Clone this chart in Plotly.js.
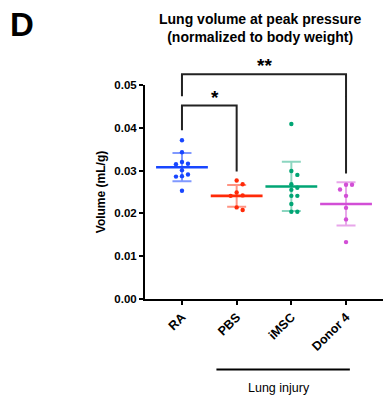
<!DOCTYPE html>
<html>
<head>
<meta charset="utf-8">
<script src="https://cdn.plot.ly/plotly-3.0.1.min.js"></script>
<style>html,body{margin:0;padding:0;background:#fff;}#chart{width:388px;height:406px;}</style>
</head>
<body>
<div id="chart"></div>
<script>
// ---------- data ----------
const categories = ['RA', 'PBS', 'iMSC', 'Donor 4'];
const raValues    = [0.0371, 0.0343, 0.0320, 0.0316, 0.0315, 0.0301, 0.0291, 0.0287, 0.0286, 0.0253];
const pbsValues   = [0.0277, 0.0268, 0.0249, 0.0242, 0.0241, 0.0214, 0.0208];
const imscValues  = [0.0409, 0.0299, 0.0290, 0.0268, 0.0260, 0.0255, 0.0241, 0.0241, 0.0222, 0.0204, 0.0204];
const donorValues = [0.0267, 0.0267, 0.0256, 0.0241, 0.0213, 0.0186, 0.0133];
const meanValues  = [0.0308, 0.0241, 0.0263, 0.0222];
const sdValues    = [0.0033, 0.00255, 0.00575, 0.00505];
const yTickVals   = [0, 0.01, 0.02, 0.03, 0.04, 0.05];
const comparisons = [
  { from: 0, to: 1, label: '*' },
  { from: 0, to: 3, label: '**' }
];
const groupLabel = 'Lung injury';
const titleText = 'Lung volume at peak pressure<br>(normalized to body weight)';
const panelLetter = 'D';
const yTitle = 'Volume (mL/g)';

// ---------- style / layout constants ----------
const W = 388, H = 406;
const M = { l: 145, r: 5, t: 85, b: 107 };
const xRange = [-0.676, 3.676];
const yRange = [0, 0.05];
const colors = ['#1846ff', '#ff2a08', '#00a574', '#d24ed6'];
const sdColors = ['rgba(24,70,255,0.55)', 'rgba(255,42,8,0.5)', 'rgba(0,165,116,0.45)', 'rgba(210,78,214,0.5)'];
const FONT = 'Liberation Sans, Arial, sans-serif';
// bracket geometry (data units): level, left-leg bottom, right-leg bottom
const bracketGeom = [
  { level: 0.0452, leftEnd: 0.0394, rightEnd: 0.0298 },
  { level: 0.0525, leftEnd: 0.0474, rightEnd: 0.0293 }
];

const plotW = W - M.l - M.r, plotH = H - M.t - M.b;
const pxPerX = plotW / (xRange[1] - xRange[0]);
const pxPerY = plotH / (yRange[1] - yRange[0]);
const xPaper = v => (v - xRange[0]) / (xRange[1] - xRange[0]);
const yPaper = v => (v - yRange[0]) / (yRange[1] - yRange[0]);
const pxToPaperX = px => (px - M.l) / plotW;
const pxToPaperY = py => (H - M.b - py) / plotH;

// simple deterministic beeswarm (GraphPad-like scatter spread)
function beeswarm(values, center) {
  const stepPx = 6, diamPx = 4.8;
  const placed = [];
  return values.map(v => {
    const cands = [0, 1, -1, 2, -2, 3, -3];
    for (const k of cands) {
      const dx = k * stepPx;
      const ok = placed.every(p => Math.hypot(p.dx - dx, (p.v - v) * pxPerY) >= diamPx);
      if (ok) { placed.push({ dx, v }); return center + dx / pxPerX; }
    }
    placed.push({ dx: 0, v });
    return center;
  });
}

const groups = [raValues, pbsValues, imscValues, donorValues];
const traces = [];

// mean ± SD (mean as horizontal line marker, SD as error bars)
groups.forEach((vals, i) => {
  traces.push({
    type: 'scatter', mode: 'markers', x: [i], y: [meanValues[i]],
    marker: { symbol: 'line-ew', size: 37, color: colors[i], line: { color: colors[i], width: 2.6 } },
    error_y: { type: 'data', array: [sdValues[i]], visible: true, color: sdColors[i], thickness: 2, width: 9.5 },
    hoverinfo: 'skip', showlegend: false
  });
});
// individual points
groups.forEach((vals, i) => {
  traces.push({
    type: 'scatter', mode: 'markers', x: beeswarm(vals, i), y: vals,
    marker: { size: 4.4, color: colors[i] },
    showlegend: false, cliponaxis: false
  });
});

const shapes = [];
const annotations = [];
comparisons.forEach((c, k) => {
  const g = bracketGeom[k];
  const x0 = xPaper(c.from), x1 = xPaper(c.to);
  shapes.push({
    type: 'path', xref: 'paper', yref: 'paper',
    path: `M${x0},${yPaper(g.leftEnd)} L${x0},${yPaper(g.level)} L${x1},${yPaper(g.level)} L${x1},${yPaper(g.rightEnd)}`,
    line: { color: '#222', width: 2 }
  });
  annotations.push({
    xref: 'paper', yref: 'paper', x: (x0 + x1) / 2, y: yPaper(g.level), yanchor: 'bottom', yshift: -4,
    text: c.label, showarrow: false,
    font: { family: FONT, size: 19, weight: 700, color: '#000' }
  });
});

// "Lung injury" grouping bar
shapes.push({
  type: 'line', xref: 'paper', yref: 'paper',
  x0: xPaper(0.63), x1: xPaper(3.07), y0: pxToPaperY(369.5), y1: pxToPaperY(369.5),
  line: { color: '#000', width: 2 }
});
annotations.push({
  xref: 'paper', yref: 'paper', x: xPaper(1.78), y: pxToPaperY(388), yanchor: 'middle',
  text: groupLabel, showarrow: false,
  font: { family: FONT, size: 12.5, color: '#000' }
});
// title
annotations.push({
  xref: 'paper', yref: 'paper', x: pxToPaperX(260), y: pxToPaperY(9), xanchor: 'center', yanchor: 'top',
  text: titleText, showarrow: false, align: 'center',
  font: { family: FONT, size: 14, weight: 700, color: '#000' }
});
// panel letter
annotations.push({
  xref: 'paper', yref: 'paper', x: pxToPaperX(8), y: pxToPaperY(4), xanchor: 'left', yanchor: 'top',
  text: panelLetter, showarrow: false,
  font: { family: FONT, size: 33, weight: 700, color: '#000' }
});

const layout = {
  width: W, height: H,
  margin: { l: M.l, r: M.r, t: M.t, b: M.b, pad: 0 },
  paper_bgcolor: '#fff', plot_bgcolor: '#fff',
  font: { family: FONT, color: '#000' },
  showlegend: false,
  xaxis: {
    range: xRange, tickmode: 'array', tickvals: categories.map((c, i) => i), ticktext: categories,
    tickangle: -45, showline: true, linewidth: 2, linecolor: '#000',
    ticks: 'outside', ticklen: 4, tickwidth: 2, tickcolor: '#000',
    showgrid: false, zeroline: false, fixedrange: true,
    tickfont: { family: FONT, size: 12.5, weight: 700, color: '#000' }
  },
  yaxis: {
    range: yRange, tickmode: 'array', tickvals: yTickVals, ticktext: yTickVals.map(v => v.toFixed(2)),
    showline: true, linewidth: 2, linecolor: '#000',
    ticks: 'outside', ticklen: 4, tickwidth: 2, tickcolor: '#000',
    showgrid: false, zeroline: false, fixedrange: true,
    tickfont: { family: FONT, size: 11.5, weight: 700, color: '#000' },
    title: { text: yTitle, standoff: 6, font: { family: FONT, size: 12, weight: 700, color: '#000' } }
  },
  shapes, annotations
};

Plotly.newPlot('chart', traces, layout, { staticPlot: true, displayModeBar: false });
</script>
</body>
</html>
